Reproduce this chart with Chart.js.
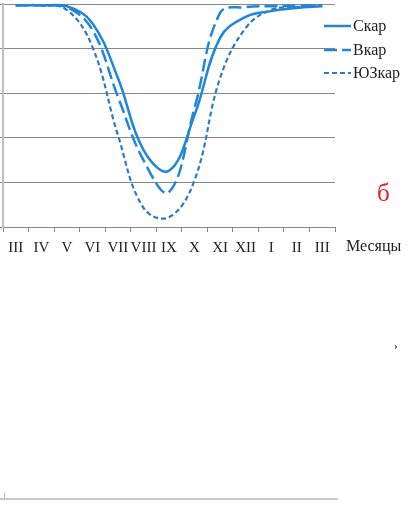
<!DOCTYPE html>
<html>
<head>
<meta charset="utf-8">
<script src="https://cdn.jsdelivr.net/npm/chart.js@4"></script>
<style>
  html, body { margin:0; padding:0; background:#fff; }
  #wrap { position:relative; width:408px; height:505px; overflow:hidden; }
  #chart { position:absolute; left:0; top:0; }
  .txt { position:absolute; font-family:"Liberation Serif", "DejaVu Serif", serif; white-space:nowrap; }
</style>
</head>
<body>
<div id="wrap">
  <canvas id="chart" width="408" height="505"></canvas>
  <div class="txt" style="left:346px; top:237px; font-size:16px; color:#222;">Месяцы</div>
  <div class="txt" style="left:377px; top:179px; font-size:25px; color:#e3202a;">б</div>
  <div class="txt" style="left:394px; top:339px; font-size:11px; font-weight:bold; color:#333;">›</div>
  <div style="position:absolute; left:0; top:498px; width:338px; height:2px; background:#c9c9c9;"></div>
  <div style="position:absolute; left:4px; top:493px; width:1px; height:6px; background:#bbb;"></div>
</div>
<script>
// months (March to March)
const months = ['III','IV','V','VI','VII','VIII','IX','X','XI','XII','I','II','III'];

// series
const skar   = [4.97, 4.97, 4.95, 4.57, 3.34, 1.73, 1.26, 2.51, 4.24, 4.71, 4.84, 4.91, 4.95];
const vkar   = [4.97, 4.97, 4.93, 4.42, 2.92, 1.50, 0.78, 2.67, 4.80, 4.93, 4.95, 4.96, 4.97];
const yuzkar = [4.97, 4.97, 4.87, 4.04, 2.06, 0.43, 0.22, 1.05, 3.34, 4.46, 4.87, 4.93, 4.97];

const seriesNames = ['Скар', 'Вкар', 'ЮЗкар'];
const yTicks = [0, 1, 2, 3, 4, 5];

const blue = '#1f86db';
const blueDark = '#2b7cc8';

// legend drawn at the right side, next to the plot
const sideLegend = {
  id: 'sideLegend',
  afterDraw(chart) {
    const ctx = chart.ctx;
    const rows = [26, 50, 73];
    ctx.save();
    chart.data.datasets.forEach((ds, i) => {
      ctx.strokeStyle = ds.borderColor;
      ctx.lineWidth = ds.borderWidth;
      ctx.setLineDash(ds.borderDash || []);
      ctx.beginPath();
      ctx.moveTo(324, rows[i]);
      ctx.lineTo(351, rows[i]);
      ctx.stroke();
      ctx.setLineDash([]);
      ctx.fillStyle = '#222';
      ctx.font = '16px "Liberation Serif", serif';
      ctx.textBaseline = 'middle';
      ctx.fillText(ds.label, 353, rows[i] + 1);
    });
    ctx.restore();
  }
};

new Chart(document.getElementById('chart'), {
  type: 'line',
  data: {
    labels: months,
    datasets: [
      { label: seriesNames[0], data: skar, borderColor: blue, borderWidth: 2.5, borderDash: [] },
      { label: seriesNames[1], data: vkar, borderColor: blue, borderWidth: 2.5, borderDash: [13, 5] },
      { label: seriesNames[2], data: yuzkar, borderColor: blueDark, borderWidth: 2.2, borderDash: [5, 3] }
    ].map(d => Object.assign(d, { pointRadius: 0, fill: false, tension: 0.4, clip: false }))
  },
  options: {
    responsive: false,
    animation: false,
    events: [],
    layout: { padding: { top: 4, left: 0, right: 73, bottom: 0 } },
    plugins: { legend: { display: false }, tooltip: { enabled: false } },
    scales: {
      x: {
        offset: true,
        grid: { offset: true, drawOnChartArea: false, color: '#888', tickLength: 5 },
        border: { color: '#888', width: 1 },
        ticks: {
          color: '#222', padding: 7, maxRotation: 0, autoSkip: false,
          font: { family: '"Liberation Serif", serif', size: 15 }
        },
        afterFit(s) { s.height = 278; }
      },
      y: {
        min: 0, max: 5,
        afterBuildTicks(s) { s.ticks = yTicks.map(v => ({ value: v })); },
        grid: { color: '#888', tickLength: 3 },
        border: { color: '#c0c0c0', width: 2 },
        ticks: { display: false },
        afterFit(s) { s.width = 3; }
      }
    }
  },
  plugins: [sideLegend]
});
</script>
</body>
</html>
